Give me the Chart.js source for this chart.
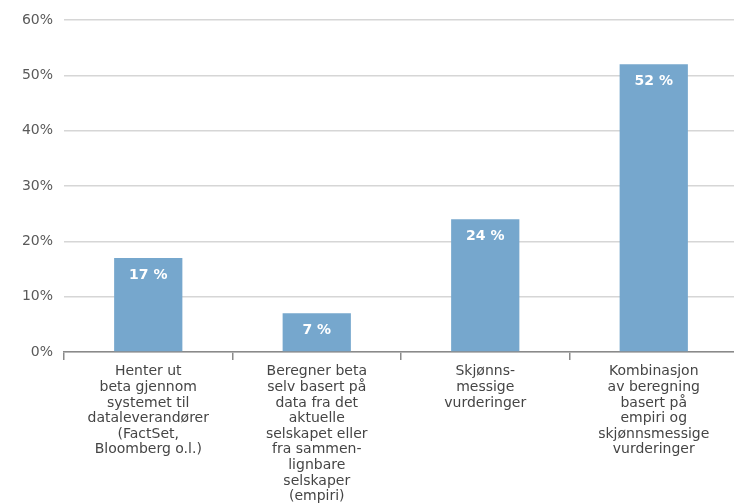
<!DOCTYPE html>
<html>
<head>
<meta charset="utf-8">
<script src="https://cdn.jsdelivr.net/npm/chart.js@4/dist/chart.umd.min.js"></script>
<style>
  html, body { margin: 0; padding: 0; background: #ffffff; overflow: hidden; width: 734px; height: 504px; }
  canvas { display: block; }
</style>
</head>
<body>
<canvas id="c" width="738" height="504"></canvas>
<script>
const categories = [
  ["Henter ut", "beta gjennom", "systemet til", "dataleverandører", "(FactSet,", "Bloomberg o.l.)"],
  ["Beregner beta", "selv basert på", "data fra det", "aktuelle", "selskapet eller", "fra sammen-", "lignbare", "selskaper", "(empiri)"],
  ["Skjønns-", "messige", "vurderinger"],
  ["Kombinasjon", "av beregning", "basert på", "empiri og", "skjønnsmessige", "vurderinger"]
];
const values = [17, 7, 24, 52];
const valueLabels = ["17 %", "7 %", "24 %", "52 %"];
const yTicks = [0, 10, 20, 30, 40, 50, 60];

const barLabelPlugin = {
  id: 'barLabels',
  afterDatasetsDraw(chart) {
    const ctx = chart.ctx;
    const meta = chart.getDatasetMeta(0);
    ctx.save();
    ctx.fillStyle = '#ffffff';
    ctx.font = 'bold 14px "DejaVu Sans"';
    ctx.textAlign = 'center';
    ctx.textBaseline = 'middle';
    meta.data.forEach((bar, i) => {
      const h = bar.base - bar.y;
      const off = Math.min(17, h / 2 + 1);
      ctx.fillText(valueLabels[i], bar.x, bar.y + off);
    });
    ctx.restore();
  }
};

new Chart(document.getElementById('c'), {
  type: 'bar',
  data: {
    labels: categories,
    datasets: [{
      data: values,
      backgroundColor: '#76a7cd',
      borderWidth: 0,
      categoryPercentage: 1.0,
      barPercentage: 0.405
    }]
  },
  options: {
    responsive: false,
    animation: false,
    layout: { padding: { top: 20, left: 0, right: 0, bottom: 0 } },
    plugins: { legend: { display: false }, tooltip: { enabled: false } },
    scales: {
      x: {
        offset: true,
        grid: {
          offset: true,
          drawOnChartArea: false,
          drawTicks: true,
          tickLength: 8,
          color: '#8a8a8a',
          lineWidth: 1.5
        },
        border: { display: true, color: '#8a8a8a', width: 1.5 },
        ticks: {
          color: '#454545',
          font: { family: '"DejaVu Sans"', size: 14, lineHeight: 1.115 },
          padding: 4,
          maxRotation: 0,
          autoSkip: false
        },
        afterFit(scale) { scale.height = 152; }
      },
      y: {
        min: 0,
        max: 60,
        afterBuildTicks(scale) { scale.ticks = yTicks.map(v => ({ value: v })); },
        grid: {
          color: '#d6d6d6',
          lineWidth: 1.5,
          drawTicks: false
        },
        border: { display: false },
        ticks: {
          color: '#5a5a5a',
          font: { family: '"DejaVu Sans"', size: 14 },
          padding: 11,
          callback: v => v + '%'
        },
        afterFit(scale) { scale.width = 64; }
      }
    }
  },
  plugins: [barLabelPlugin]
});
</script>
</body>
</html>
